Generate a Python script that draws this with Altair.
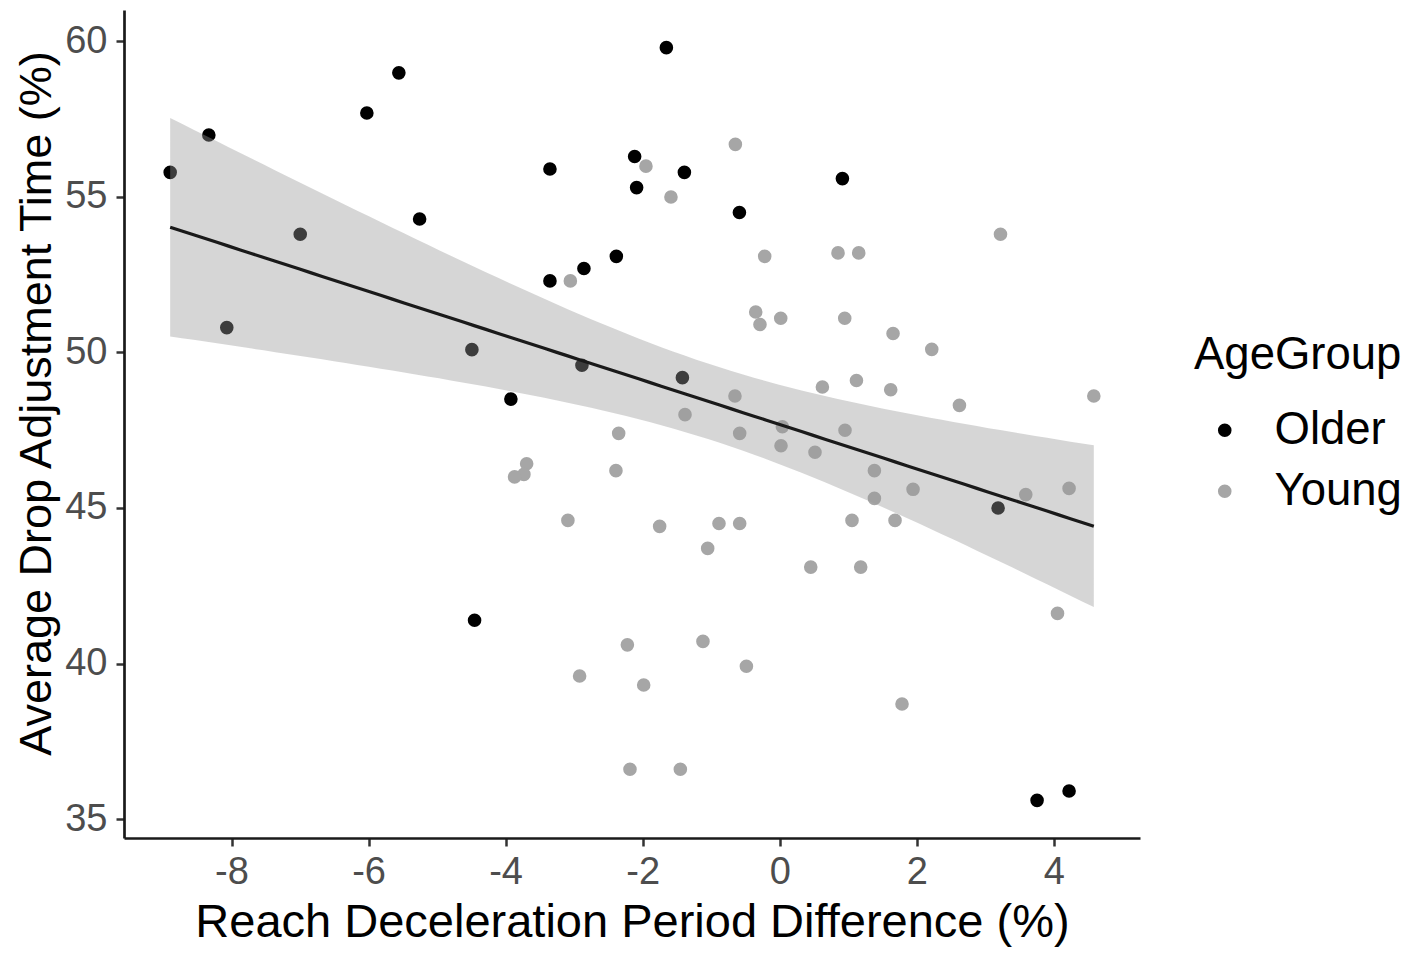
import altair as alt
import pandas as pd
import numpy as np

# ---- data ----
older_x = [-8.895, -8.331, -8.069, -6.997, -6.025, -5.558, -5.255, -4.492, -4.453, -3.923,
           -3.353, -3.353, -2.857, -2.886, -2.384, -2.117, -2.088, -1.654, -1.391, -1.420,
           -0.588, 0.915, 3.187, 3.756, 4.223]
older_y = [55.79, 56.99, 50.80, 53.80, 57.70, 58.99, 54.29, 50.09, 41.39, 48.50,
           55.90, 52.30, 52.70, 49.59, 53.09, 56.30, 55.30, 59.80, 55.79, 49.19,
           54.50, 55.59, 45.00, 35.60, 35.90]

young_x = [-3.055, -1.952, -1.587, -0.647, -0.219, 0.851, 1.153, 3.222, -0.350, -0.288,
           0.015, 0.949, 1.654, 2.219, 2.623, 4.584, 0.623, 1.120, 1.620, -0.653,
           -0.584, -1.382, -2.350, 0.039, 0.019, 0.515, 0.953, -3.693, -3.733, -3.869,
           -2.390, 1.382, 1.382, 1.946, 3.591, 4.223, -3.091, -1.752, -0.886, -0.584,
           1.055, 1.683, -1.051, 0.453, 1.182, 4.054, -2.223, -1.120, -0.486, -2.920,
           -1.985, 1.785, -2.185, -1.450]
young_y = [52.30, 55.99, 55.00, 56.69, 53.09, 53.20, 53.20, 53.80, 51.30, 50.90,
           51.10, 51.10, 50.61, 50.10, 48.30, 48.60, 48.89, 49.10, 48.80, 48.60,
           47.40, 48.00, 47.40, 47.61, 47.00, 46.79, 47.50, 46.42, 46.08, 46.00,
           46.20, 46.20, 45.31, 45.60, 45.43, 45.63, 44.60, 44.41, 44.50, 44.50,
           44.60, 44.60, 43.70, 43.10, 43.10, 41.61, 40.60, 40.71, 39.91, 39.60,
           39.31, 38.70, 36.60, 36.60]

groups = ["Older", "Young"]
group_colors = ["#000000", "#A6A6A6"]
x_ticks = [-8, -6, -4, -2, 0, 2, 4]
y_ticks = [35, 40, 45, 50, 55, 60]

df = pd.DataFrame({
    "x": older_x + young_x,
    "y": older_y + young_y,
    "AgeGroup": ["Older"] * len(older_x) + ["Young"] * len(young_x),
})

# ---- linear model with 95% confidence band (like geom_smooth(method="lm")) ----
xv = df["x"].to_numpy()
yv = df["y"].to_numpy()
n = len(xv)
xm, ym = xv.mean(), yv.mean()
sxx = ((xv - xm) ** 2).sum()
b = ((xv - xm) * (yv - ym)).sum() / sxx
a = ym - b * xm
s = np.sqrt(((yv - (a + b * xv)) ** 2).sum() / (n - 2))
T975 = 1.991
grid = np.linspace(xv.min(), xv.max(), 80)
fit = a + b * grid
se = s * np.sqrt(1.0 / n + (grid - xm) ** 2 / sxx)
band = pd.DataFrame({"x": grid, "fit": fit, "lo": fit - T975 * se, "hi": fit + T975 * se})

# ggplot-like 5% expansion
xr = xv.max() - xv.min()
yr = yv.max() - yv.min()
xdom = [xv.min() - 0.05 * xr, xv.max() + 0.05 * xr]
ydom = [yv.min() - 0.05 * yr, yv.max() + 0.05 * yr]

FONT = "Liberation Sans"

xscale = alt.Scale(domain=xdom, nice=False, zero=False)
yscale = alt.Scale(domain=ydom, nice=False, zero=False)

xaxis = alt.Axis(values=x_ticks, title="Reach Deceleration Period Difference (%)",
                 labelPadding=7, titlePadding=8, titleFontSize=47,
                 labelExpr="toString(datum.value)")
yaxis = alt.Axis(values=y_ticks, title="Average Drop Adjustment Time (%)",
                 labelPadding=9, titlePadding=5, titleFontSize=45, titleY=393,
                 labelExpr="toString(datum.value)")

points = alt.Chart(df).mark_circle(size=185, opacity=1).encode(
    x=alt.X("x:Q", scale=xscale, axis=xaxis),
    y=alt.Y("y:Q", scale=yscale, axis=yaxis),
    color=alt.Color(
        "AgeGroup:N",
        scale=alt.Scale(domain=groups, range=group_colors),
        legend=alt.Legend(
            title="AgeGroup", orient="none", legendX=1070, legendY=323,
            titleFontSize=45.5, titleFont=FONT, titleFontWeight="normal", titleColor="#000000",
            titleLimit=0, labelLimit=0,
            labelFontSize=45.5, labelFont=FONT, labelColor="#000000",
            symbolSize=185, symbolType="circle", symbolStrokeWidth=0, symbolOpacity=1,
            symbolOffset=8, labelOffset=27, rowPadding=14, titlePadding=29, padding=0,
        ),
    ),
)

ribbon = alt.Chart(band).mark_area(color="#999999", opacity=0.4).encode(
    x=alt.X("x:Q", scale=xscale),
    y=alt.Y("lo:Q", scale=yscale),
    y2="hi:Q",
)

line = alt.Chart(band).mark_line(color="#1a1a1a", strokeWidth=3.2).encode(
    x=alt.X("x:Q", scale=xscale),
    y=alt.Y("fit:Q", scale=yscale),
)

chart = alt.layer(points, ribbon, line).properties(
    width=1016, height=828,
    padding={"left": 116, "top": 2, "right": 266, "bottom": 109},
    autosize=alt.AutoSizeParams(type="none"),
).configure_view(strokeWidth=0).configure_axis(
    grid=False,
    domainColor="#1a1a1a", domainWidth=2.7,
    tickColor="#333333", tickWidth=2.5, tickSize=8,
    labelFont=FONT, labelFontSize=38, labelColor="#4D4D4D",
    titleFont=FONT, titleFontSize=46, titleColor="#000000", titleFontWeight="normal",
)

chart.save("out.html", embed_options={"renderer": "svg", "actions": False})
